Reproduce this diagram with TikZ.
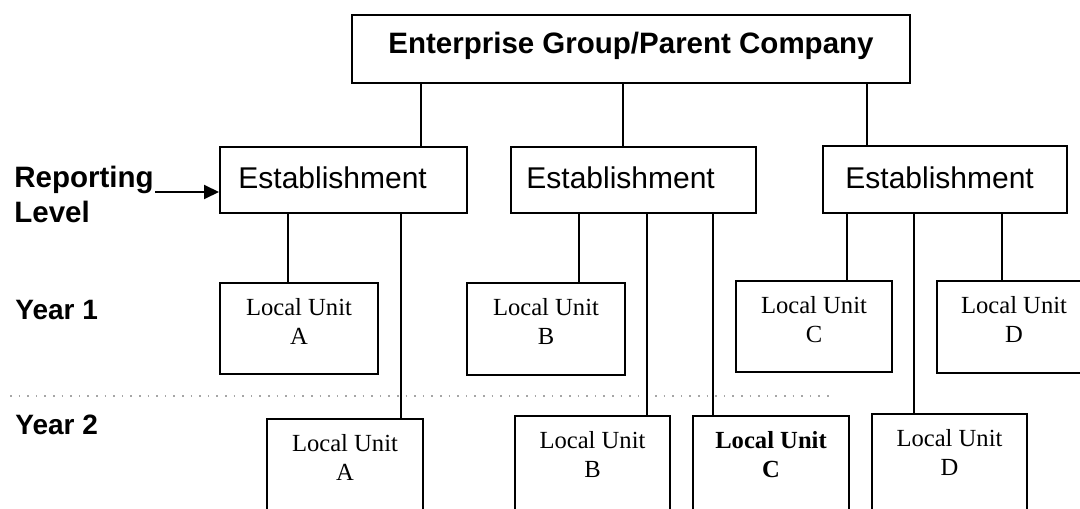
\documentclass[tikz,border=0pt]{standalone}
\usepackage{fontspec}
\setmainfont{Liberation Serif}
\setsansfont{Liberation Sans}
\usetikzlibrary{fit,arrows.meta}
\newcommand\lubox[4]{%
  \node[bx, fit={#2}] (#1) {};
  \node[lu, #4, anchor=base] (#1-t) at ([yshift=-16.5pt]#1.north) {Local Unit};
  \node[lu, #4, anchor=base] (#1-l) at ([yshift=-31pt]#1.north) {#3};
}
\begin{document}
\begin{tikzpicture}[x=0.5pt,y=-0.5pt,
  bx/.style={draw, line width=1pt, inner sep=0pt},
  conn/.style={line width=1pt},
  sanb/.style={font=\fontsize{14.75}{16}\selectfont\sffamily\bfseries, inner sep=0pt},
  yr/.style={font=\fontsize{14}{16}\selectfont\sffamily\bfseries, inner sep=0pt},
  est/.style={font=\fontsize{15}{17}\selectfont\sffamily, inner sep=0pt},
  lu/.style={font=\fontsize{12.3}{14.5}\selectfont, inner sep=0pt},
  bolded/.style={font=\fontsize{12.3}{14.5}\selectfont\bfseries}
]
\useasboundingbox (0,0) rectangle (1080,508);
\clip (0,0) rectangle (1080,508);

% dotted separator
\draw[gray!70, line width=0.7pt, dash pattern=on 0.8pt off 3.5pt] (10,396) -- (835,396);

% top
\node[bx, fit={(352,15)(910,83)}] (top) {};
\node[sanb, anchor=base] (toptxt) at (631,54) {Enterprise Group/Parent Company};

% establishments
\node[bx, fit={(220,147)(467,213)}] (e1) {};
\node[bx, fit={(511,147)(756,213)}] (e2) {};
\node[bx, fit={(823,146)(1067,213)}] (e3) {};
\node[est, anchor=base west] (e1t) at (238,188) {Establishment};
\node[est, anchor=base west] (e2t) at (526,188) {Establishment};
\node[est, anchor=base west] (e3t) at (845,188) {Establishment};

% left labels
\node[sanb, anchor=base west] (rep) at (14,187) {Reporting};
\node[sanb, anchor=base west] (lev) at (14,222) {Level};
\node[yr, anchor=base west] (y1) at (15,319) {Year 1};
\node[yr, anchor=base west] (y2) at (15,434) {Year 2};
\coordinate (arrs) at (155,192);
\draw[conn, -{Triangle[length=7.5pt,width=7pt]}] (arrs) -- (e1.west |- arrs);

% local units year 1
\lubox{a1}{(220,283)(378,374)}{A}{}
\lubox{b1}{(467,283)(625,375)}{B}{}
\lubox{c1}{(736,281)(892,372)}{C}{}
\lubox{d1}{(937,281)(1091,373)}{D}{}
% local units year 2
\lubox{a2}{(267,419)(423,530)}{A}{}
\lubox{b2}{(515,416)(670,530)}{B}{}
\lubox{c2}{(693,416)(849,530)}{C}{bolded}
\lubox{d2}{(872,414)(1027,530)}{D}{}

% connectors
\draw[conn] (421,0 |- top.south) -- (421,0 |- e1.north);
\draw[conn] (623,0 |- top.south) -- (623,0 |- e2.north);
\draw[conn] (867,0 |- top.south) -- (867,0 |- e3.north);
\draw[conn] (288,0 |- e1.south) -- (288,0 |- a1.north);
\draw[conn] (401,0 |- e1.south) -- (401,0 |- a2.north);
\draw[conn] (579,0 |- e2.south) -- (579,0 |- b1.north);
\draw[conn] (647,0 |- e2.south) -- (647,0 |- b2.north);
\draw[conn] (713,0 |- e2.south) -- (713,0 |- c2.north);
\draw[conn] (847,0 |- e3.south) -- (847,0 |- c1.north);
\draw[conn] (914,0 |- e3.south) -- (914,0 |- d2.north);
\draw[conn] (1002,0 |- e3.south) -- (1002,0 |- d1.north);
\end{tikzpicture}
\end{document}
